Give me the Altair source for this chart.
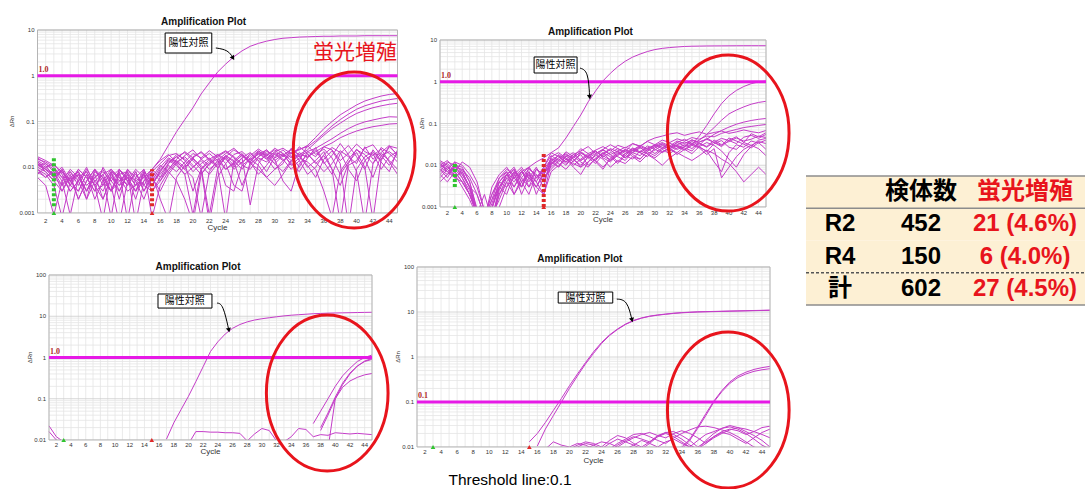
import math
import altair as alt
import pandas as pd

# ===================== DATA (ΔRn, in units of 0.001) =====================
# Panel 1 (top-left): every curve covers cycles 1..45
p1_positive = [11, 9, 6, 8, 5, 3, 7, 4, 6, 3, 5, 8, 4, 6, 9,
               15, 30, 60, 110, 200, 400, 700, 1200, 1800, 2600, 3500, 4400, 5100, 5700, 6200,
               6600, 6800, 7000, 7100, 7200, 7300, 7300, 7400, 7400, 7400, 7500, 7500, 7500, 7500, 7500]
p1_rising = [
    [12, 8, 5, 9, 4, 7, 3, 6, 8, 5, 3, 7, 4, 6, 9, 14, 19, 13, 9, 16, 22, 15, 11, 17, 24, 18, 13, 20, 15, 22,
     26, 20, 24, 30, 45, 70, 100, 140, 180, 230, 280, 320, 360, 390, 410],
    [16, 12, 9, 6, 3, 5, 8, 4, 2, 6, 9, 5, 3, 8, 5, 7, 12, 17, 21, 14, 9, 13, 19, 15, 10, 16, 21, 14, 18, 24,
     17, 21, 25, 28, 38, 55, 80, 110, 145, 185, 220, 250, 280, 300, 320],
    [9, 6, 8, 3, 6, 2, 5, 9, 6, 3, 7, 4, 8, 3, 6, 11, 8, 13, 17, 11, 7, 12, 17, 22, 16, 11, 15, 19, 24, 16,
     20, 14, 19, 24, 35, 50, 70, 92, 120, 150, 175, 200, 220, 238, 250],
    [13, 9, 6, 4, 8, 5, 2, 5, 7, 9, 5, 6, 3, 7, 4, 8, 15, 12, 7, 10, 15, 20, 14, 9, 13, 18, 12, 17, 22, 19,
     14, 20, 17, 22, 26, 33, 42, 55, 70, 85, 98, 108, 118, 127, 125],
    [7, 10, 7, 8, 4, 9, 6, 3, 4, 8, 2, 9, 6, 4, 8, 5, 9, 14, 10, 15, 11, 7, 12, 18, 14, 9, 16, 23, 17, 12,
     18, 24, 19, 17, 22, 28, 34, 44, 53, 62, 70, 77, 82, 88, 90],
]
p1_noise = [
    [15, 13, 10, 6, 8, 4, 9, 5, 3, 7, 4, 6, 3, 5, 8, 12, 18, 20, 14, 8, 12, 16, 10, 0.7, 14, 20, 12, 9, 6, 4,
     7, 13, 18, 10, 14, 22, 9, 4, 12, 25, 15, 6, 18, 11, 20],
    [12, 9, 7, 10, 5, 7, 3, 8, 6, 0.8, 9, 5, 7, 4, 3, 6, 9, 15, 22, 16, 10, 0.9, 9, 18, 13, 4, 11, 17, 24, 14,
     19, 12, 8, 16, 27, 13, 7, 20, 30, 17, 9, 24, 14, 28, 19],
    [17, 14, 11, 8, 5, 9, 6, 3, 10, 5, 8, 0.7, 6, 9, 4, 8, 14, 11, 7, 0.9, 9, 15, 19, 12, 4, 3, 13, 21, 16, 9,
     12, 26, 18, 11, 6, 15, 23, 12, 0.5, 9, 17, 22, 13, 8, 24],
    [10, 8, 5, 3, 7, 2, 5, 9, 4, 8, 3, 7, 5, 2, 6, 3, 7, 12, 18, 24, 15, 11, 18, 23, 17, 12, 20, 14, 8, 17,
     24, 16, 28, 20, 12, 18, 9, 0.6, 11, 14, 26, 31, 18, 22, 16],
    [8, 6, 9, 5, 0.9, 6, 8, 4, 7, 3, 9, 6, 2, 8, 5, 10, 16, 13, 9, 6, 0.8, 8, 14, 20, 26, 18, 13, 7, 11, 20,
     15, 9, 14, 30, 19, 25, 16, 7, 13, 21, 10, 0.7, 15, 29, 26],
    [14, 11, 6, 9, 4, 3, 7, 2, 5, 9, 6, 4, 8, 3, 7, 2, 0.7, 6, 11, 17, 21, 14, 10, 16, 9, 13, 18, 25, 19, 12,
     8, 14, 21, 16, 24, 12, 18, 33, 19, 8, 0.6, 12, 20, 14, 9],
    [6, 4, 0.9, 5, 9, 6, 3, 7, 2, 6, 4, 9, 5, 7, 3, 5, 11, 8, 13, 20, 16, 23, 17, 9, 12, 19, 14, 22, 18, 26,
     20, 11, 16, 13, 9, 3, 0.8, 8, 15, 24, 19, 12, 27, 20, 13],
    [11, 12, 8, 4, 6, 8, 4, 6, 9, 4, 0.6, 5, 9, 6, 4, 9, 13, 17, 12, 3, 9, 0.6, 6, 12, 19, 22, 15, 11, 6, 9,
     14, 18, 10, 22, 17, 28, 24, 14, 20, 32, 22, 18, 25, 13, 7],
    [13, 10, 12, 7, 3, 5, 10, 4, 0.7, 8, 6, 3, 4, 9, 0.8, 4, 8, 5, 2, 0.6, 7, 12, 15, 4, 3, 11, 9, 16, 13, 21,
     18, 25, 14, 7, 10, 19, 27, 21, 9, 5, 14, 20, 9, 17, 22],
    [9, 7, 4, 0.8, 5, 8, 2, 9, 5, 3, 7, 8, 0.6, 5, 9, 6, 12, 19, 15, 10, 14, 9, 13, 17, 11, 16, 1.5, 12, 20, 15,
     5, 3, 12, 19, 13, 8, 12, 23, 17, 12, 28, 15, 21, 30, 18],
]

# Panel 2 (top-right): every curve covers cycles 1..45
p2_positive = [9, 7, 5, 4, 2, 0.8, 0.6, 2, 4, 6, 5, 7, 9, 12,
               15, 20, 26, 45, 85, 160, 330, 600, 1050, 1600, 2300, 3100, 3900, 4600, 5300, 5900,
               6300, 6600, 6800, 7000, 7100, 7150, 7200, 7220, 7240, 7260, 7280, 7290, 7300, 7300, 7300]
p2_rising = [
    [10, 8, 12, 6, 3, 0.8, 0.6, 2, 5, 8, 6, 3, 9, 5, 7, 13, 17, 12, 16, 20, 15, 19, 24, 18, 22, 27, 23, 20, 26, 30,
     25, 29, 24, 28, 32, 50, 90, 170, 300, 460, 620, 770, 900, 990, 1040],
    [6, 9, 7, 4, 2, 0.7, 0.5, 1.5, 3, 6, 4, 7, 5, 3, 6, 11, 15, 19, 14, 10, 16, 21, 17, 13, 19, 24, 20, 26, 22, 28,
     33, 27, 31, 36, 32, 40, 55, 80, 120, 170, 210, 250, 290, 320, 340],
    [11, 8, 5, 7, 3, 2, 0.6, 0.5, 2, 4, 7, 5, 3, 8, 6, 12, 9, 14, 18, 13, 17, 22, 16, 20, 25, 19, 23, 28, 24, 30,
     35, 29, 38, 33, 40, 36, 42, 55, 68, 82, 96, 108, 118, 126, 132],
    [8, 5, 10, 9, 4, 0.8, 0.5, 1, 3, 6, 8, 3, 6, 4, 9, 17, 13, 21, 16, 25, 19, 23, 28, 22, 30, 26, 33, 29, 37, 31,
     40, 35, 43, 38, 46, 42, 50, 48, 58, 65, 72, 80, 85, 90, 95],
]
p2_noise = [
    [12, 9, 6, 3, 1.5, 0.6, 0.5, 3, 6, 9, 5, 3, 7, 4, 2, 11, 14, 10, 16, 12, 9, 15, 20, 13, 17, 24, 18, 14, 22, 28,
     21, 25, 30, 26, 22, 34, 28, 40, 31, 37, 45, 38, 42, 50, 46],
    [10, 13, 8, 5, 2, 0.6, 0.5, 0.9, 4, 7, 3, 6, 9, 5, 8, 14, 9, 17, 12, 20, 15, 11, 18, 24, 16, 13, 21, 27, 19, 23,
     30, 24, 35, 29, 41, 33, 27, 36, 44, 39, 33, 47, 52, 44, 55],
    [8, 6, 11, 7, 3, 0.7, 0.6, 0.5, 2, 5, 8, 4, 2, 6, 3, 16, 20, 15, 10, 14, 19, 12, 8, 15, 22, 17, 25, 20, 16, 26,
     32, 24, 20, 28, 37, 30, 45, 35, 28, 40, 48, 35, 57, 48, 60],
    [6, 4, 7, 12, 9, 4, 0.8, 0.5, 3, 2, 6, 9, 5, 3, 7, 9, 13, 18, 14, 9, 12, 17, 23, 18, 12, 19, 26, 21, 29, 24,
     20, 27, 35, 42, 33, 27, 22, 12, 7, 20, 31, 27, 38, 34, 40],
    [13, 10, 5, 8, 4, 0.9, 0.5, 0.6, 1.5, 4, 2, 5, 8, 6, 4, 12, 17, 11, 15, 21, 16, 13, 9, 14, 20, 15, 23, 30, 25, 19,
     26, 34, 28, 23, 30, 26, 18, 25, 5, 9, 16, 24, 30, 37, 33],
    [5, 8, 12, 10, 6, 3, 0.8, 0.5, 2.5, 6, 9, 4, 7, 2, 5, 8, 12, 16, 20, 13, 17, 22, 15, 12, 18, 23, 16, 14, 21, 17,
     24, 19, 26, 31, 25, 36, 42, 35, 30, 45, 38, 32, 26, 35, 24],
    [9, 11, 7, 4, 2, 0.7, 0.5, 0.9, 3, 5, 3, 7, 4, 8, 6, 15, 11, 8, 13, 18, 10, 14, 19, 25, 21, 15, 20, 17, 24, 31,
     27, 22, 29, 24, 19, 28, 35, 30, 22, 14, 9, 18, 28, 40, 44],
    [11, 7, 9, 6, 3, 0.8, 0.5, 1.2, 4, 3, 7, 2, 5, 9, 4, 10, 18, 14, 11, 9, 16, 13, 20, 16, 11, 17, 14, 22, 19, 15,
     21, 26, 18, 24, 32, 28, 21, 33, 39, 27, 24, 35, 30, 25, 17],
    [7, 12, 10, 5, 2.5, 0.7, 2, 0.5, 1, 3, 5, 8, 3, 5, 9, 20, 16, 12, 18, 22, 28, 19, 24, 31, 25, 21, 33, 28, 38, 45,
     50, 56, 60, 52, 58, 63, 55, 61, 66, 58, 63, 70, 64, 60, 68],
    [4, 6, 9, 8, 5, 2, 0.6, 1.5, 5, 7, 2, 4, 6, 3, 2, 7, 10, 14, 9, 6, 12, 18, 14, 9, 13, 11, 16, 12, 18, 14,
     10, 15, 20, 16, 13, 17, 23, 19, 14, 11, 7, 4, 6, 9, 6],
]

# Panel 3 (bottom-left): (first cycle, values)
p3_positive = [(17, [10.5, 26, 55, 115, 260, 600, 1400, 2400, 3700, 5100, 6300, 7300, 8100, 8700, 9200,
                     9700, 10200, 10600, 10900, 11200, 11500, 11700, 11900, 12000, 12100, 12200, 12300,
                     12400, 12500])]
p3_rising = [
    (37, [25, 50, 100, 200, 360, 550, 800, 1000, 1150]),
    (38, [17, 40, 100, 220, 400, 620, 820, 950]),
    (38, [20, 45, 110, 240, 420, 620, 800, 900]),
    (39, [6, 100, 190, 270, 330, 380, 410]),
]
p3_low = [
    (20, [8, 16, 16, 15.5, 15.5, 15, 15, 14.5, 9.5, 14, 19, 17, 9.5, 9]),
    (33, [9, 12, 19, 18, 12, 13.5, 13, 15, 14.5, 14, 14.5, 14, 13.5]),
    (1, [22, 12, 9]),
    (1, [16, 10, 8]),
]

# Panel 4 (bottom-right): (first cycle, values)
p4_positive = [
    (15, [13, 20, 35, 65, 120, 230, 420, 750, 1300, 2100, 3100, 4200, 5400, 6500, 7400, 8100, 8600, 9000,
          9400, 9700, 9900, 10100, 10200, 10300, 10400, 10500, 10600, 10700, 10800, 10900, 11000]),
    (16, [10.5, 25, 50, 100, 200, 380, 700, 1200, 2000, 3000, 4100, 5300, 6400, 7300, 8000, 8500, 8900,
          9300, 9600, 9800, 10000, 10100, 10200, 10300, 10400, 10500, 10600, 10700, 10800, 10900]),
]
p4_rising = [
    (33, [9, 10, 15, 28, 55, 105, 180, 280, 380, 460, 530, 580, 620]),
    (33, [8, 9, 14, 26, 50, 100, 170, 260, 350, 420, 480, 520, 550]),
]
p4_low = [
    (17, [9, 13, 11, 10, 12, 11, 9, 10, 14, 18, 16, 12, 10, 13, 18, 21, 19, 15, 11, 9, 14, 20, 26, 28, 25,
          20, 15, 11, 9]),
    (18, [9, 10, 9, 11, 13, 12, 10, 9, 12, 15, 19, 20, 17, 14, 12, 16, 20, 24, 28, 29, 27, 24, 21, 17, 13,
          10, 9, 8]),
    (20, [9, 10, 12, 11, 9, 8, 11, 14, 17, 15, 13, 17, 21, 22, 18, 14, 10, 13, 17, 22, 25, 23, 19, 22, 27, 29]),
    (22, [9, 11, 13, 12, 10, 13, 16, 19, 21, 18, 16, 20, 23, 20, 16, 12, 16, 20, 24, 27, 25, 22, 19, 16]),
    (24, [9, 12, 15, 13, 11, 9, 12, 17, 20, 17, 13, 10, 14, 19, 22, 26, 30, 27, 22, 18, 14, 10]),
    (27, [9, 11, 14, 12, 10, 13, 15, 12, 10, 9, 12, 17, 21, 19, 15, 12, 16, 21, 25]),
]

thresholds = [1.0, 1.0, 1.0, 0.1]
threshold_labels = ["1.0", "1.0", "1.0", "0.1"]

# Table
table_rows = ["R2", "R4", "計"]
table_counts = [452, 150, 602]
table_fluor = [21, 6, 27]
table_pct = ["4.6", "4.0", "4.5"]
table_head = ["検体数", "蛍光増殖"]

# ===================== STYLE / LAYOUT =====================
LINE = "#c43cc8"
THR = "#e619e6"
RED = "#e8141c"
GREEN = "#2fc42f"
MARKRED = "#e02828"
SANS = "Liberation Sans"
CJK = "Noto Sans CJK JP"
ELLIPSE = ("M 0 -1 C 0.431 -1 0.78 -0.552 0.78 0 C 0.78 0.552 0.431 1 0 1 "
           "C -0.431 1 -0.78 0.552 -0.78 0 C -0.78 -0.552 -0.431 -1 0 -1 Z")


def full(curves):
    return [(1, c) for c in curves]


panels = [
    dict(xr=[37.5, 397.5], yr=[213, 30], yd=[0.001, 10],
         curves=full(p1_noise) + full(p1_rising) + full([p1_positive]),
         thr=thresholds[0], thr_label=threshold_labels[0],
         xlab_dy=8, cycle_dy=15, drn_dy=-26,
         box=(16.6, 22.3, 3.14, 8.6), box_text=(19.45, 5.2),
         arrow=[(22.8, 4.05), (24.3, 3.66), (24.9, 2.44)], head_angle=328,
         ellipse=(39.7, 0.0238),
         bars=[(3, 0.0014, 0.0165, GREEN), (15, 0.0014, 0.009, MARKRED)],
         extra=[("蛍光増殖", 39.8, 3.14, 0, 21, CJK, RED)]),
    dict(xr=[440, 766], yr=[207, 40], yd=[0.001, 10],
         curves=full(p2_noise) + full(p2_rising) + full([p2_positive]),
         thr=thresholds[1], thr_label=threshold_labels[1],
         xlab_dy=6, cycle_dy=13, drn_dy=-18,
         box=(13.7, 19.5, 1.62, 3.92), box_text=(16.6, 2.52),
         arrow=[(19.9, 2.13), (21.0, 1.81), (21.2, 0.43)], head_angle=354,
         ellipse=(39.9, 0.059),
         bars=[(3, 0.003, 0.012, GREEN), (15, 0.001, 0.02, MARKRED)],
         extra=[]),
    dict(xr=[49, 372], yr=[440, 275], yd=[0.01, 100],
         curves=p3_low + p3_rising + p3_positive,
         thr=thresholds[2], thr_label=threshold_labels[2],
         xlab_dy=5, cycle_dy=12, drn_dy=-19,
         box=(15.85, 23.2, 15.8, 34.6), box_text=(19.5, 23.4),
         arrow=[(23.9, 20.9), (24.7, 19.8), (25.5, 4.6)], head_angle=347,
         ellipse=(38.9, 0.1377),
         bars=[],
         extra=[]),
    dict(xr=[417, 770], yr=[447, 267], yd=[0.01, 100],
         curves=p4_low + p4_rising + p4_positive,
         thr=thresholds[3], thr_label=threshold_labels[3],
         xlab_dy=5, cycle_dy=14, drn_dy=-19,
         box=(18.6, 25.4, 15.8, 27.8), box_text=(22.0, 21.0),
         arrow=[(25.9, 19.4), (27.2, 18.5), (27.8, 6.6)], head_angle=346,
         ellipse=(39.8, 0.0664),
         bars=[],
         extra=[("Threshold line:0.1", 12.6, 0.01, 33, 15.5, SANS, "black")]),
]


def build_panel(P):
    lo, hi = P["yd"]
    xs = alt.Scale(domain=[1, 45], range=P["xr"])
    ys = alt.Scale(type="log", domain=[lo, hi], range=P["yr"])

    def X(f="c"):
        return alt.X(f"{f}:Q", scale=xs, axis=None)

    def Y(f="v"):
        return alt.Y(f"{f}:Q", scale=ys, axis=None)

    L = []
    frame = pd.DataFrame([{"c0": 1, "c1": 45, "v0": lo, "v1": hi}])
    L.append(alt.Chart(frame).mark_rect(fill="white").encode(
        x=X("c0"), x2=alt.X2("c1"), y=Y("v0"), y2=alt.Y2("v1")))

    vg = pd.DataFrame({"c": list(range(1, 46)), "v0": lo, "v1": hi})
    L.append(alt.Chart(vg).mark_rule(color="#e4e4e4", strokeWidth=0.8).encode(
        x=X(), y=Y("v0"), y2=alt.Y2("v1")))

    kmin, kmax = round(math.log10(lo)), round(math.log10(hi))
    minor = [m * 10.0 ** k for k in range(kmin, kmax) for m in range(2, 10)]
    major = [10.0 ** k for k in range(kmin, kmax + 1)]
    L.append(alt.Chart(pd.DataFrame({"v": minor, "c0": 1, "c1": 45})).mark_rule(
        color="#e4e4e4", strokeWidth=0.8).encode(x=X("c0"), x2=alt.X2("c1"), y=Y()))
    L.append(alt.Chart(pd.DataFrame({"v": major, "c0": 1, "c1": 45})).mark_rule(
        color="#cccccc", strokeWidth=0.8).encode(x=X("c0"), x2=alt.X2("c1"), y=Y()))

    rows = []
    for i, (start, vals) in enumerate(P["curves"]):
        for k, val in enumerate(vals):
            rows.append({"id": i, "c": start + k, "v": val / 1000.0})
    L.append(alt.Chart(pd.DataFrame(rows)).mark_line(color=LINE, strokeWidth=1).encode(
        x=X(), y=Y(), detail="id:N", order="c:Q"))

    # white band just below the plot area: hides the parts of curves that fall under the axis minimum
    mask = pd.DataFrame([{"c0": 0.6, "c1": 45.4, "v0": lo / 4, "v1": lo}])
    L.append(alt.Chart(mask).mark_rect(fill="white").encode(
        x=X("c0"), x2=alt.X2("c1"), y=Y("v0"), y2=alt.Y2("v1")))
    L.append(alt.Chart(frame).mark_rect(fillOpacity=0, stroke="#b5b5b5", strokeWidth=1).encode(
        x=X("c0"), x2=alt.X2("c1"), y=Y("v0"), y2=alt.Y2("v1")))

    thr = pd.DataFrame([{"c0": 1, "c1": 45, "v": P["thr"], "t": P["thr_label"]}])
    L.append(alt.Chart(thr).mark_rule(color=THR, strokeWidth=3).encode(
        x=X("c0"), x2=alt.X2("c1"), y=Y()))
    L.append(alt.Chart(thr).mark_text(font="Liberation Serif", fontSize=8, fontWeight="bold",
                                      color="#b02828", align="left", baseline="bottom",
                                      dx=1, dy=-2).encode(x=X("c0"), y=Y(), text="t:N"))

    if P["bars"]:
        bars = pd.DataFrame([{"c": c, "v0": a, "v1": b, "col": col} for c, a, b, col in P["bars"]])
        L.append(alt.Chart(bars).mark_rule(strokeWidth=4, strokeDash=[3, 2]).encode(
            x=X(), y=Y("v0"), y2=alt.Y2("v1"), color=alt.Color("col:N", scale=None)))
    tri = pd.DataFrame([{"c": 3, "v": lo, "col": GREEN}, {"c": 15, "v": lo, "col": MARKRED}])
    L.append(alt.Chart(tri).mark_point(shape="triangle-up", filled=True, size=22, opacity=1).encode(
        x=X(), y=Y(), color=alt.Color("col:N", scale=None)))

    yl = pd.DataFrame({"v": major, "t": [f"{v:g}" for v in major], "c": 1})
    L.append(alt.Chart(yl).mark_text(font=SANS, fontSize=6, align="right", dx=-3, color="#333").encode(
        x=X(), y=Y(), text="t:N"))
    xl = pd.DataFrame({"c": list(range(2, 45, 2)), "v": lo})
    L.append(alt.Chart(xl).mark_text(font=SANS, fontSize=6, dy=P["xlab_dy"], color="#333").encode(
        x=X(), y=Y(), text="c:Q"))

    geo_mid = 10 ** ((math.log10(lo) + math.log10(hi)) / 2)
    L.append(alt.Chart(pd.DataFrame([{"c": 21.3, "v": hi, "t": "Amplification Plot"}])).mark_text(
        font=SANS, fontSize=10, fontWeight="bold", dy=-8, color="#111").encode(x=X(), y=Y(), text="t:N"))
    L.append(alt.Chart(pd.DataFrame([{"c": 23, "v": lo, "t": "Cycle"}])).mark_text(
        font=SANS, fontSize=8, dy=P["cycle_dy"], color="#333").encode(x=X(), y=Y(), text="t:N"))
    L.append(alt.Chart(pd.DataFrame([{"c": 1, "v": geo_mid, "t": "ΔRn"}])).mark_text(
        font=SANS, fontSize=6, angle=270, dy=P["drn_dy"], color="#333").encode(x=X(), y=Y(), text="t:N"))

    c0, c1, v0, v1 = P["box"]
    L.append(alt.Chart(pd.DataFrame([{"c0": c0, "c1": c1, "v0": v0, "v1": v1}])).mark_rect(
        fill="white", stroke="black", strokeWidth=1).encode(
        x=X("c0"), x2=alt.X2("c1"), y=Y("v0"), y2=alt.Y2("v1")))
    bc, bv = P["box_text"]
    L.append(alt.Chart(pd.DataFrame([{"c": bc, "v": bv, "t": "陽性対照"}])).mark_text(
        font=CJK, fontSize=10, color="black").encode(x=X(), y=Y(), text="t:N"))
    arr = pd.DataFrame([{"c": c, "v": v, "o": i} for i, (c, v) in enumerate(P["arrow"])])
    L.append(alt.Chart(arr).mark_line(color="black", strokeWidth=1, interpolate="basis").encode(
        x=X(), y=Y(), order="o:Q"))
    L.append(alt.Chart(arr.tail(1)).mark_point(shape="triangle-down", filled=True, size=26, opacity=1,
                                               color="black", angle=P["head_angle"]).encode(x=X(), y=Y()))

    ec, ev = P["ellipse"]
    L.append(alt.Chart(pd.DataFrame([{"c": ec, "v": ev}])).mark_point(
        shape=ELLIPSE, filled=False, size=24336, strokeWidth=3, color=RED, opacity=1).encode(x=X(), y=Y()))

    for text, c, v, dy, fs, font, col in P["extra"]:
        L.append(alt.Chart(pd.DataFrame([{"c": c, "v": v, "t": text}])).mark_text(
            font=font, fontSize=fs, color=col, dy=dy).encode(x=X(), y=Y(), text="t:N"))

    return alt.layer(*L)


# ---------------- table ----------------
ROW_KEYS = ["head"] + table_rows
COL_X = {"label": 0.122, "n": 0.412, "fl": 0.785}
tx_scale = alt.Scale(domain=[0, 1], range=[806, 1085])
ty_scale = alt.Scale(domain=ROW_KEYS, range=[176, 305], paddingInner=0, paddingOuter=0)


def TX(f):
    return alt.X(f"{f}:Q", scale=tx_scale, axis=None)


def TY(**kw):
    return alt.Y("row:N", scale=ty_scale, axis=None, **kw)


bg = pd.DataFrame({"row": ROW_KEYS, "x0": 0, "x1": 1})
cells = [{"row": "head", "x": COL_X["n"], "t": table_head[0], "col": "black"},
         {"row": "head", "x": COL_X["fl"], "t": table_head[1], "col": RED}]
for r, n, f, p in zip(table_rows, table_counts, table_fluor, table_pct):
    cells.append({"row": r, "x": COL_X["label"], "t": r, "col": "black"})
    cells.append({"row": r, "x": COL_X["n"], "t": str(n), "col": "black"})
    cells.append({"row": r, "x": COL_X["fl"], "t": f"{f} ({p}%)", "col": RED})
cells = pd.DataFrame(cells)

table = alt.layer(
    alt.Chart(bg).mark_rect(fill="#fdf0d4").encode(x=TX("x0"), x2=alt.X2("x1"), y=TY()),
    alt.Chart(pd.DataFrame({"row": ["head", "R2"], "x0": 0, "x1": 1})).mark_rule(
        color="#8c8c8c", strokeWidth=1.5).encode(x=TX("x0"), x2=alt.X2("x1"), y=TY(bandPosition=0)),
    alt.Chart(pd.DataFrame({"row": ["計"], "x0": 0, "x1": 1})).mark_rule(
        color="#8c8c8c", strokeWidth=1.5).encode(x=TX("x0"), x2=alt.X2("x1"), y=TY(bandPosition=1)),
    alt.Chart(pd.DataFrame({"row": ["計"], "x0": 0, "x1": 1})).mark_rule(
        color="#555555", strokeWidth=1.5, strokeDash=[3, 2]).encode(
        x=TX("x0"), x2=alt.X2("x1"), y=TY(bandPosition=0)),
    alt.Chart(cells).mark_text(font=f"{SANS}, {CJK}", fontSize=24, fontWeight="bold").encode(
        x=TX("x"), y=TY(), text="t:N", color=alt.Color("col:N", scale=None)),
)

chart = alt.layer(*[build_panel(P) for P in panels], table).resolve_scale(
    x="independent", y="independent"
).properties(
    width=1085, height=489, autosize=alt.AutoSizeParams(type="none"), padding=0, background="white"
).configure_view(stroke=None)

chart.save("out.html", embed_options={"renderer": "svg", "actions": False})
